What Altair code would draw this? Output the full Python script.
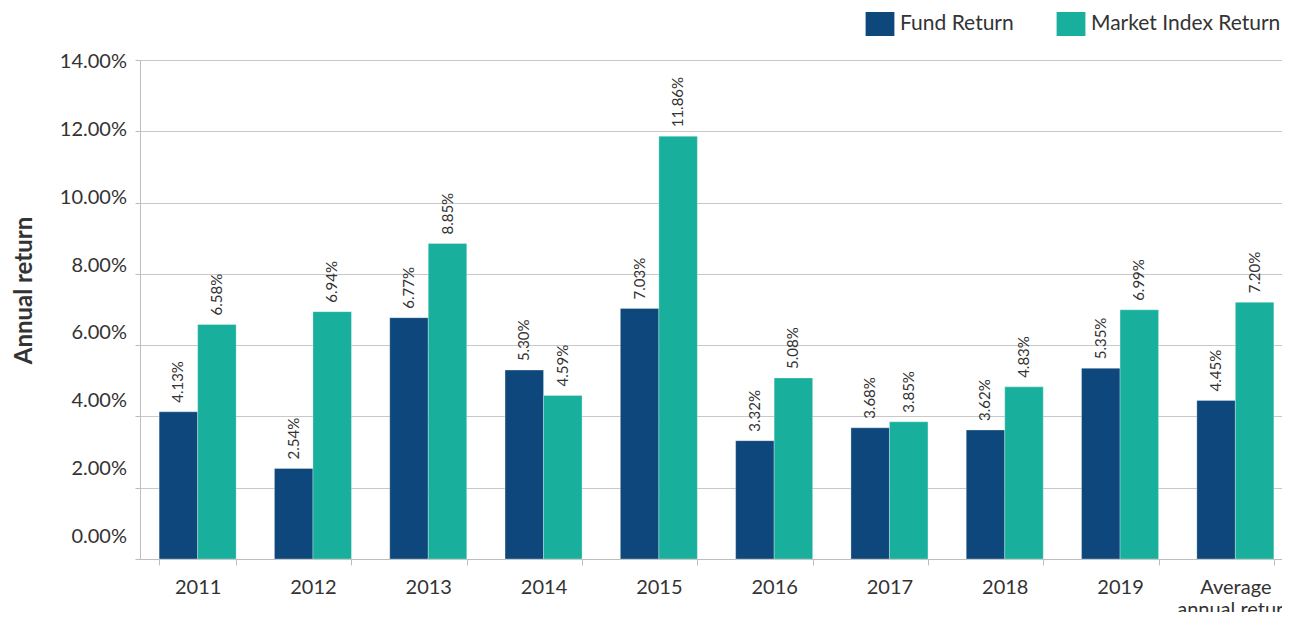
import altair as alt
import pandas as pd

categories = ["2011", "2012", "2013", "2014", "2015", "2016", "2017", "2018", "2019", "Average annual return"]
series_names = ["Fund Return", "Market Index Return"]
fund_values = [4.13, 2.54, 6.77, 5.30, 7.03, 3.32, 3.68, 3.62, 5.35, 4.45]
market_values = [6.58, 6.94, 8.85, 4.59, 11.86, 5.08, 3.85, 4.83, 6.99, 7.20]
y_tick_values = [0, 2, 4, 6, 8, 10, 12, 14]
y_tick_labels = ["0.00%", "2.00%", "4.00%", "6.00%", "8.00%", "10.00%", "12.00%", "14.00%"]
colors = ["#0E477B", "#18B09C"]

rows = []
for c, f, m in zip(categories, fund_values, market_values):
    rows.append({"cat": c, "series": series_names[0], "v": f, "label": f"{f:.2f}%"})
    rows.append({"cat": c, "series": series_names[1], "v": m, "label": f"{m:.2f}%"})
df = pd.DataFrame(rows)
ticks_df = pd.DataFrame({"v": y_tick_values, "t": y_tick_labels})

FONT = "Lato"
TXT = "#333333"

x_enc = alt.X(
    "cat:N", sort=categories, title=None,
    scale=alt.Scale(paddingInner=0.332, paddingOuter=0.166, range=[0, 1153]),
    axis=alt.Axis(
        labelAngle=0, labelFont=FONT, labelFontSize=20, labelColor=TXT,
        labelPadding=12, tickBand="extent", tickSize=6, tickColor="#bdbdbd",
        domainColor="#bdbdbd", grid=False, labelLineHeight=22, labelLimit=0,
        labelExpr="datum.label == 'Average annual return' ? ['Average', 'annual return'] : datum.label",
    ),
)
xoff = alt.XOffset("series:N", sort=series_names)
y_scale = alt.Scale(domain=[0, 14])

bars = alt.Chart(df).mark_bar(stroke="white", strokeWidth=0.6, strokeOpacity=0.5).encode(
    x=x_enc,
    xOffset=xoff,
    y=alt.Y(
        "v:Q", scale=y_scale, title="Annual return",
        axis=alt.Axis(
            values=y_tick_values, labels=False, grid=True, gridColor="#c8c8c8",
            domainColor="#bdbdbd", tickColor="#bdbdbd", tickSize=5,
            titleFont=FONT, titleFontSize=24, titleFontWeight="bold", titleColor=TXT,
            titleX=-116, titleY=230, titleBaseline="middle", titleAngle=270,
        ),
    ),
    color=alt.Color(
        "series:N", sort=series_names,
        scale=alt.Scale(domain=series_names, range=colors),
        legend=alt.Legend(
            title=None, orient="none", legendX=728, legendY=-48, direction="horizontal",
            symbolType="M-1.2,-1L1.2,-1L1.2,1L-1.2,1Z", symbolSize=576,
            symbolStrokeWidth=0, labelFont=FONT, labelFontSize=21, labelColor=TXT,
            labelOffset=8, columnPadding=42, labelLimit=0,
        ),
    ),
)

labels = alt.Chart(df).mark_text(
    angle=270, align="left", baseline="middle", dx=9,
    font=FONT, fontSize=15, color=TXT,
).encode(
    x=x_enc,
    xOffset=xoff,
    y=alt.Y("v:Q", scale=y_scale),
    text="label:N",
)

main = alt.layer(bars, labels)

ylabels = alt.Chart(ticks_df).mark_text(
    align="right", baseline="middle", font=FONT, fontSize=20, color=TXT,
).encode(
    x=alt.value(-13),
    y=alt.Y("v:Q", scale=alt.Scale(domain=[-0.648, 14.059]), axis=None),
    text="t:N",
)

chart = alt.layer(main, ylabels).resolve_scale(y="independent").properties(
    width=1142, height=499,
    autosize=alt.AutoSizeParams(type="none"),
    padding={"left": 132, "top": 52, "right": 0, "bottom": 53},
).configure_view(stroke=None).configure(background="white")

chart.save("out.html", embed_options={"renderer": "svg", "actions": False})
